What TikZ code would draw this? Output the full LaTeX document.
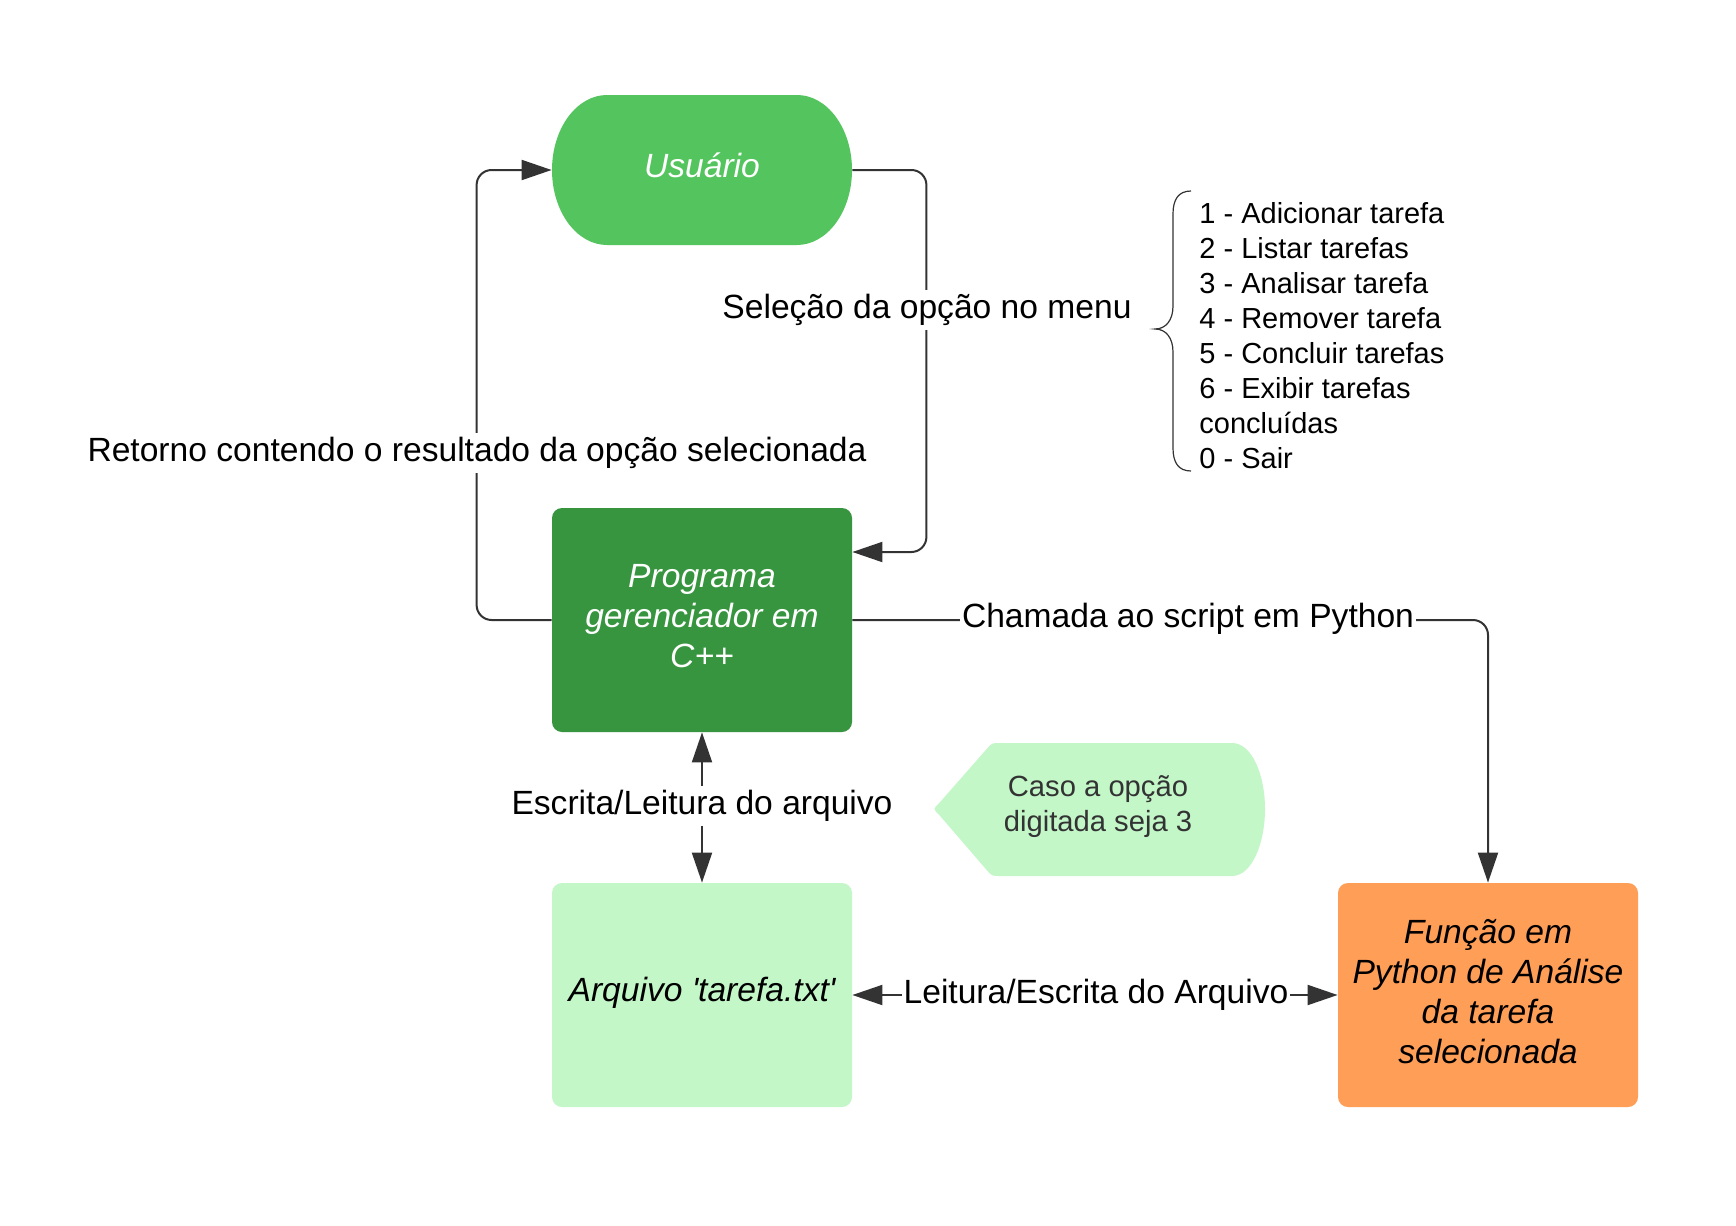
\documentclass[tikz,border=0pt]{standalone}
\usepackage{fontspec}
\setmainfont{Liberation Sans}
\newfontfamily\nolig{Liberation Sans}
\usetikzlibrary{arrows.meta}
\definecolor{usrg}{HTML}{54C45E}
\definecolor{progg}{HTML}{37953F}
\definecolor{lightg}{HTML}{C3F7C8}
\definecolor{orng}{HTML}{FF9E57}
\definecolor{lnc}{HTML}{333333}
\begin{document}
\begin{tikzpicture}[x=0.5pt,y=-0.5pt,
  >={Triangle[length=15pt,width=10pt]},
  conn/.style={draw=lnc, line width=1pt, rounded corners=7.5pt},
  lab/.style={fill=white, inner xsep=1pt, inner ysep=2pt, text=black, font=\fontsize{16.8}{20}\selectfont},
  box/.style={rounded corners=5pt, minimum width=150pt, minimum height=112pt, inner sep=0pt},
  boxtext/.style={align=center, inner sep=0pt, font=\fontsize{16.8}{20}\selectfont\itshape}]
\useasboundingbox[fill=white] (0,0) rectangle (1736,1226);

% Usuario shape
\fill[usrg] (607,95) -- (797,95) .. controls (827.4,95) and (852,128.6) .. (852,170)
  .. controls (852,211.4) and (827.4,245) .. (797,245) -- (607,245)
  .. controls (576.6,245) and (552,211.4) .. (552,170)
  .. controls (552,128.6) and (576.6,95) .. (607,95) -- cycle;
\node[minimum width=150pt, minimum height=75pt, inner sep=0pt] (usr) at (702,170) {};
\node[boxtext, text=white] (usrt) at (702,165) {Usuário};

% boxes
\node[box, fill=progg] (prog) at (702,620) {};
\node[boxtext, text=white] (progt) at (702,616.5) {Programa\\gerenciador em\\C++};
\node[box, fill=lightg] (arq) at (702,995) {};
\node[boxtext, text=black] (arqt) at (702,993) {\nolig\itshape Arquivo 'tarefa.txt'};
\node[box, fill=orng] (func) at (1488,995) {};
\node[boxtext, text=black] (funct) at (1488,991.5) {Função em\\Python de Análise\\da tarefa\\selecionada};

% Caso shape
\fill[lightg] (1100,743) -- (1232,743)
  .. controls (1252,743) and (1265,775) .. (1265,809)
  .. controls (1265,843) and (1252,876) .. (1232,876)
  -- (1000,876) .. controls (992,876) .. (986.7,870)
  -- (939.3,815) .. controls (933,809) .. (939.3,803)
  -- (986.7,749) .. controls (992,743) .. (1000,743) -- cycle;
\node[align=center, inner sep=0pt, text=lnc, font=\fontsize{14.6}{17.5}\selectfont] (caso) at (1098,807) {Caso a opção\\digitada seja 3};

% brace and menu
\draw[draw=lnc, line width=0.6pt] (1191,191) .. controls (1178,191) and (1173,200) .. (1173,214) -- (1173,306)
  .. controls (1173,320) and (1166,329) .. (1155,329)
  .. controls (1166,329) and (1173,338) .. (1173,352) -- (1173,448)
  .. controls (1173,462) and (1178,471) .. (1191,471);
\node[anchor=west, align=left, inner sep=0pt, font=\fontsize{14.5}{17.5}\selectfont] (menu) at (1199,336)
  {1 - Adicionar tarefa\\2 - Listar tarefas\\3 - Analisar tarefa\\4 - Remover tarefa\\5 - Concluir tarefas\\6 - Exibir tarefas\\concluídas\\0 - Sair};

% connectors
\draw[conn,->] (usr.east) -- ++(74,0) |- ([yshift=34pt]prog.east);
\draw[conn,->] (prog.west) -- ++(-75,0) |- (usr.west);
\draw[conn,->] (prog.east) -| (func.north);
\draw[conn,<->] (prog.south) -- (arq.north);
\draw[conn,<->] (arq.east) -- (func.west);

% labels
\node[lab] (lsel) at (927,310) {Seleção da opção no menu};
\node[lab] (lret) at (477,453) {Retorno contendo o resultado da opção selecionada};
\node[lab] (lcha) at (1188,619) {Chamada ao script em Python};
\node[lab] (lesc) at (702,806) {Escrita/Leitura do arquivo};
\node[lab] (llei) at (1096,995) {Leitura/Escrita do Arquivo};
\end{tikzpicture}
\end{document}
